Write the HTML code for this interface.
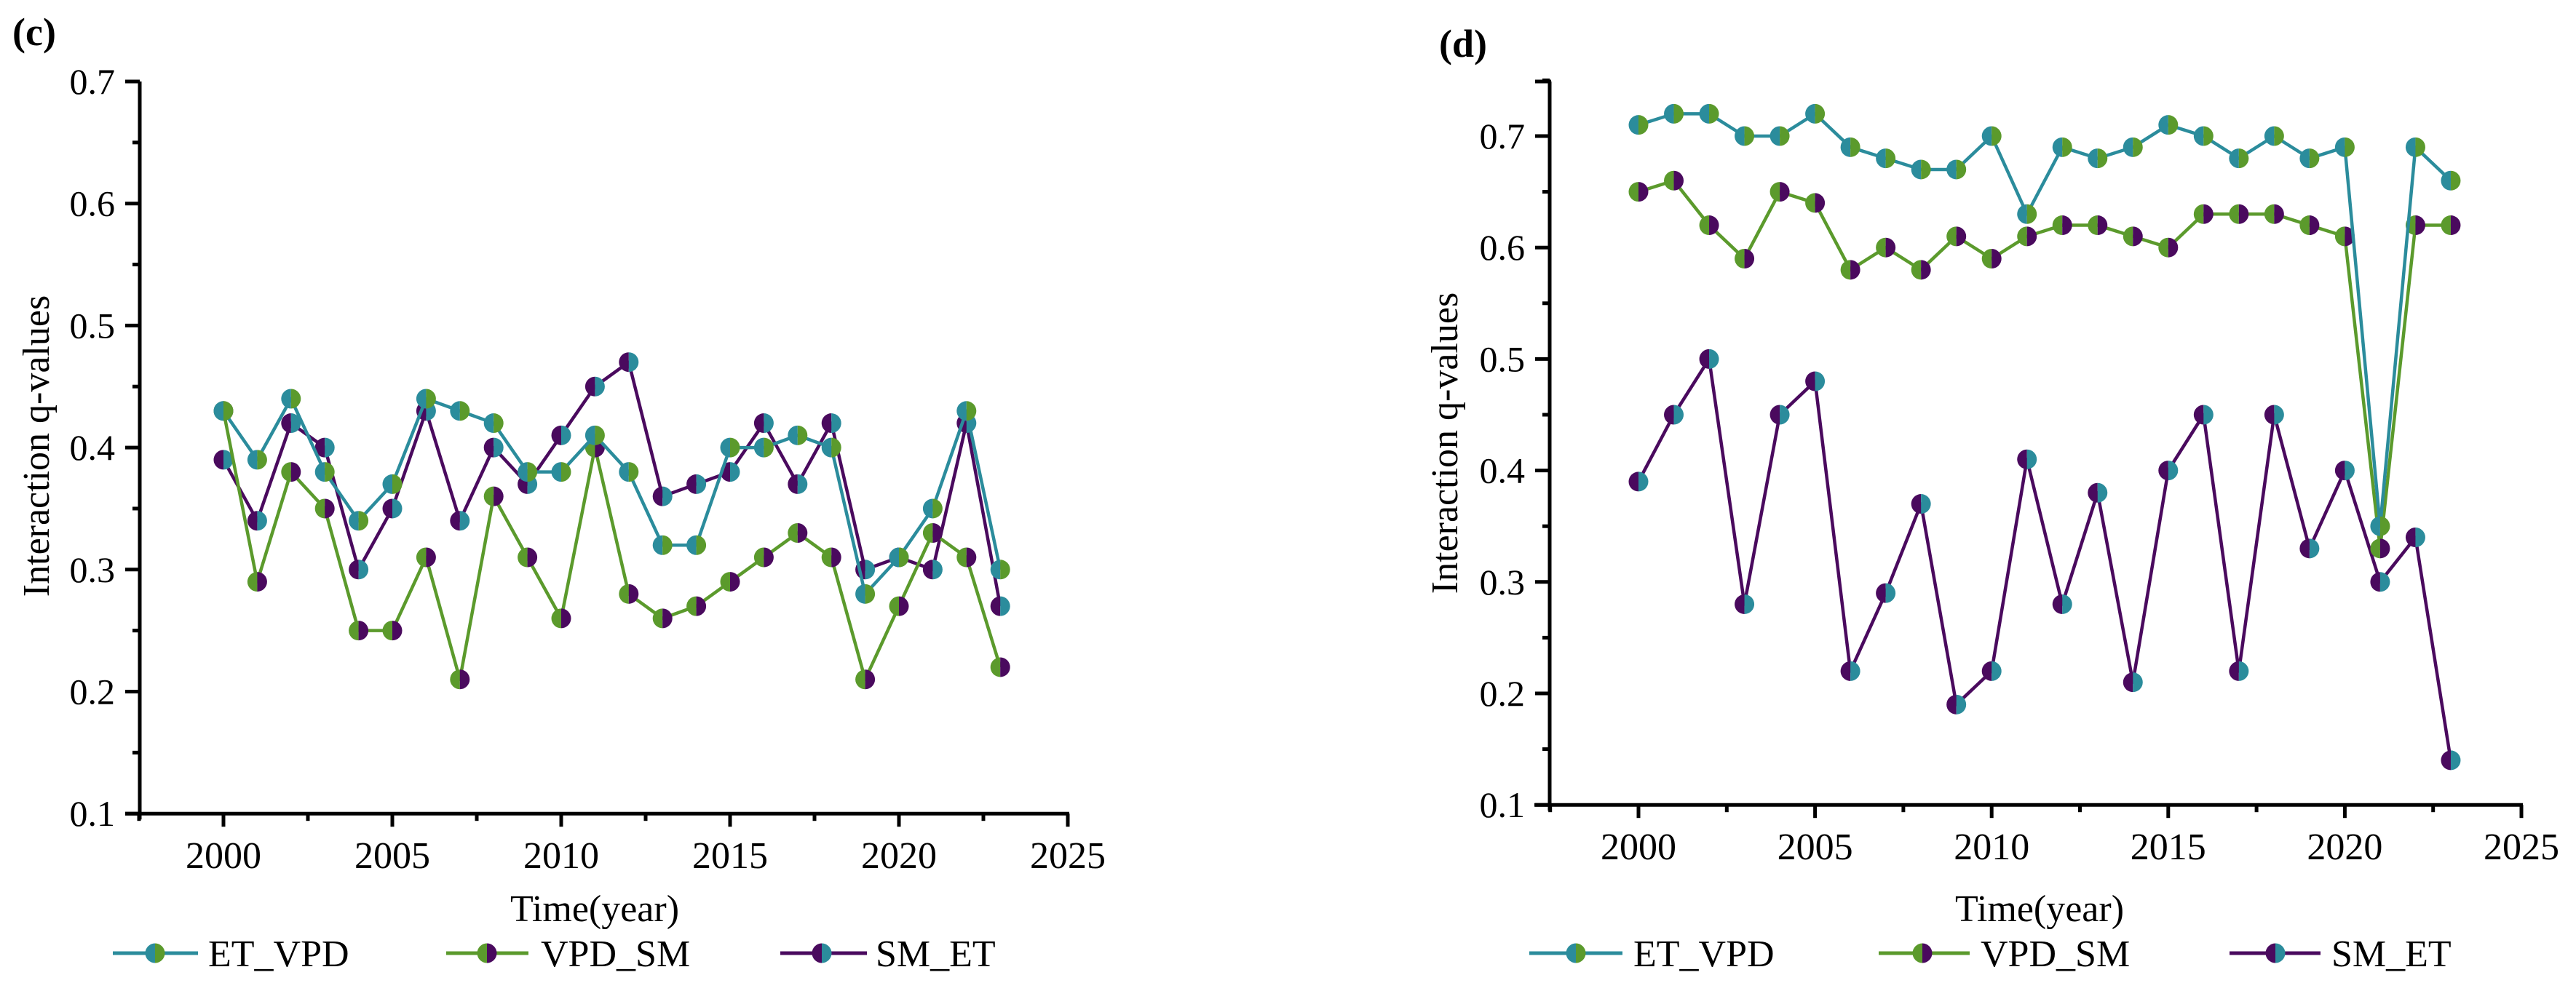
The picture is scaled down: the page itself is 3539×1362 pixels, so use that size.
<!DOCTYPE html>
<html><head><meta charset="utf-8"><style>
html,body{margin:0;padding:0;background:#fff;}
svg{display:block;}
svg text{font-family:"Liberation Serif","Times New Roman",serif;}
</style></head><body>
<svg id="fig" width="3539" height="1362" viewBox="0 0 3539 1362" xmlns="http://www.w3.org/2000/svg" font-family="Liberation Serif, serif"></svg>
<script>
const years = [2000,2001,2002,2003,2004,2005,2006,2007,2008,2009,2010,2011,2012,2013,2014,2015,2016,2017,2018,2019,2020,2021,2022,2023];
const seriesNames = ["ET_VPD","VPD_SM","SM_ET"];
const cEtVpd = [.43,.39,.44,.38,.34,.37,.44,.43,.42,.38,.38,.41,.38,.32,.32,.40,.40,.41,.40,.28,.31,.35,.43,.30];
const cVpdSm = [.43,.29,.38,.35,.25,.25,.31,.21,.36,.31,.26,.40,.28,.26,.27,.29,.31,.33,.31,.21,.27,.33,.31,.22];
const cSmEt  = [.39,.34,.42,.40,.30,.35,.43,.34,.40,.37,.41,.45,.47,.36,.37,.38,.42,.37,.42,.30,.31,.30,.42,.27];
const dEtVpd = [.71,.72,.72,.70,.70,.72,.69,.68,.67,.67,.70,.63,.69,.68,.69,.71,.70,.68,.70,.68,.69,.35,.69,.66];
const dVpdSm = [.65,.66,.62,.59,.65,.64,.58,.60,.58,.61,.59,.61,.62,.62,.61,.60,.63,.63,.63,.62,.61,.33,.62,.62];
const dSmEt  = [.39,.45,.50,.28,.45,.48,.22,.29,.37,.19,.22,.41,.28,.38,.21,.40,.45,.22,.45,.33,.40,.30,.34,.14];
const xTicks = [2000,2005,2010,2015,2020,2025];
const yTicks = [0.1,0.2,0.3,0.4,0.5,0.6,0.7];

const TEAL="#2b8c9c", GREEN="#5b9a2c", PURPLE="#4a0a5e";
const colors = [[TEAL,GREEN],[GREEN,PURPLE],[PURPLE,TEAL]];
const NS="http://www.w3.org/2000/svg";
const FF='"Liberation Serif","Times New Roman",serif';
const svg=document.getElementById('fig');
function el(tag,attrs,parent){const e=document.createElementNS(NS,tag);for(const k in attrs)e.setAttribute(k,attrs[k]);if(tag==='text')e.setAttribute('font-family',FF);(parent||svg).appendChild(e);return e;}

const panels=[
 {tag:"c",label:"(c)",lx:17,ly:62,ax:192,x0:307,x5:232,yTop:112,y07:112,yStep:167.7,yMaxV:0.7,xEnd:1467,xLeft:172,
  data:[cEtVpd,cVpdSm,cSmEt],ytX:51,ytY:613,xtX:817,
  leg:[[155,272,213,286],[613,726,669,743],[1072,1191,1129,1203]]},
 {tag:"d",label:"(d)",lx:1977,ly:78,ax:2129,x0:2251,x5:242.6,yTop:112,y07:187,yStep:153.2,yMaxV:0.75,xEnd:3464,xLeft:2108,
  data:[dEtVpd,dVpdSm,dSmEt],ytX:1986,ytY:609,xtX:2802,
  leg:[[2101,2229,2165,2244],[2581,2706,2641,2721],[3063,3188,3126,3203]]}
];

panels.forEach(p=>{
  const g=el('g',{});
  
  
  const X=v=>p.x0+(v-2000)/5*p.x5;
  const Y=v=>p.y07+(0.7-v)/0.1*p.yStep;
  const yb=Y(0.1);
  const lab=el('text',{x:p.lx,y:p.ly,'font-size':54,'font-weight':'bold'},g);lab.textContent=p.label;
  
  
  const ya=el('line',{x1:p.ax,y1:p.yTop,x2:p.ax,y2:yb+8,stroke:'#000','stroke-width':5},g);
  
  
  const xa=el('line',{x1:p.xLeft,y1:yb,x2:p.xEnd+2,y2:yb,stroke:'#000','stroke-width':5},g);
  
  
  if(p.tag==='d'){el('line',{x1:p.ax-20,y1:p.yTop,x2:p.ax+2,y2:p.yTop,stroke:'#000','stroke-width':5},g);}
  for(let v=0.1;v<=p.yMaxV+1e-9;v+=0.05){
    const major=Math.abs(Math.round(v*10)-v*10)<1e-6;
    el('line',{x1:p.ax-(major?20:10),y1:Y(v),x2:p.ax,y2:Y(v),stroke:'#000','stroke-width':5},g);
  }
  yTicks.forEach(v=>{
    const t=el('text',{x:p.ax-34,y:Y(v)+17,'font-size':50,'text-anchor':'end'},g);t.textContent=v.toFixed(1);
    
    
  });
  for(let v=1997.5;v<=2025.01;v+=2.5){
    const major=Math.abs(v%5)<1e-6;
    el('line',{x1:X(v),y1:yb,x2:X(v),y2:yb+(major?18:10),stroke:'#000','stroke-width':5},g);
  }
  xTicks.forEach(v=>{
    const t=el('text',{x:X(v),y:yb+75,'font-size':52,'text-anchor':'middle'},g);t.textContent=v;
    
    
  });
  const xt=el('text',{x:p.xtX,y:1266,'font-size':52,'text-anchor':'middle'},g);xt.textContent='Time(year)';
  
  
  const yt=el('text',{x:p.ytX,y:p.ytY,'font-size':52,'text-anchor':'middle',transform:`rotate(-90 ${p.ytX} ${p.ytY})`,dy:16},g);yt.textContent='Interaction q-values';
  
  
  function marker(cx,cy,c,parent){
    const r=13.5;
    el('path',{d:`M${cx},${cy-r} A${r},${r} 0 0 0 ${cx},${cy+r} Z`,fill:c[0]},parent);
    el('path',{d:`M${cx},${cy-r} A${r},${r} 0 0 1 ${cx},${cy+r} Z`,fill:c[1]},parent);
  }
  [2,1,0].forEach(si=>{
    const sg=el('g',{},g);
    
    
    const vals=p.data[si];
    const pts=vals.map((v,i)=>X(years[i])+','+Y(v)).join(' ');
    el('polyline',{points:pts,fill:'none',stroke:colors[si][0],'stroke-width':4.5,'stroke-linejoin':'round'},sg);
    vals.forEach((v,i)=>marker(X(years[i]),Y(v),colors[si],sg));
  });
  p.leg.forEach((L,si)=>{
    const lg=el('g',{},g);
    
    
    el('line',{x1:L[0],y1:1310,x2:L[1],y2:1310,stroke:colors[si][0],'stroke-width':5},lg);
    marker(L[2],1310,colors[si],lg);
    const t=el('text',{x:L[3],y:1328,'font-size':52},lg);t.textContent=seriesNames[si];
  });
});
</script>
</body></html>
